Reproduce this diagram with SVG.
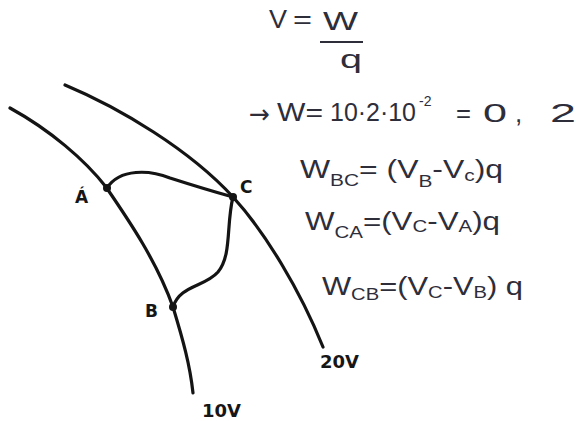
<svg xmlns="http://www.w3.org/2000/svg" width="576" height="421" viewBox="0 0 576 421">
<style>
.curve{fill:none;stroke:#141414;stroke-width:3.2;stroke-linecap:round}
.path{fill:none;stroke:#141414;stroke-width:3.2;stroke-linecap:round}
.dot{fill:#141414}
.lbl{font-family:"DejaVu Sans","Liberation Sans",sans-serif;font-weight:bold;font-size:17px;fill:#161616}
.vl{font-size:18px}
.hw{font-family:"Liberation Sans",Arial,sans-serif;font-size:26px;fill:#2e2e3a}
.sub{font-size:17px}
.arr{font-family:"DejaVu Sans",sans-serif;font-size:26px}
.sup{font-size:14px}
</style>
<rect width="576" height="421" fill="#ffffff"/>
<g id="equipotentials">
<path id="line-10V" class="curve" d="M10,108 C50,130 85,160 106,187 C130,222 157,262 173,307 C183,340 190,365 193,393"/>
<path id="line-20V" class="curve" d="M65,85 C120,108 190,150 233,197 C265,232 300,290 323,347"/>
</g>
<g id="connectors">
<path id="path-AC" class="path" d="M107,188 C120,168 150,170 170,178 C195,186 215,192 233,197"/>
<path id="path-CB" class="path" d="M233,197 C226,225 232,255 218,272 C205,287 180,285 173,307"/>
</g>
<g id="node-A"><circle class="dot" cx="107" cy="188" r="4"/><text class="lbl" x="75" y="203">Á</text></g>
<g id="node-C"><circle class="dot" cx="233" cy="197" r="4"/><text class="lbl" x="240" y="193">C</text></g>
<g id="node-B"><circle class="dot" cx="173" cy="307" r="4"/><text class="lbl" x="145" y="317">B</text></g>
<text class="lbl vl" x="320" y="368">20V</text>
<text class="lbl vl" x="202" y="417">10V</text>
<g id="equations">
<text class="hw" x="269" y="28" textLength="18" lengthAdjust="spacingAndGlyphs">V</text>
<text class="hw" x="293" y="28" textLength="19" lengthAdjust="spacingAndGlyphs">=</text>
<text class="hw" x="323" y="30" textLength="35" lengthAdjust="spacingAndGlyphs">W</text>
<line x1="320" y1="42" x2="363" y2="42" stroke="#2e2e3a" stroke-width="2"/>
<text class="hw" x="340" y="68" textLength="22" lengthAdjust="spacingAndGlyphs">q</text>
<text class="hw arr" x="249" y="123" textLength="21" lengthAdjust="spacingAndGlyphs">→</text>
<text class="hw" x="277" y="121" textLength="46" lengthAdjust="spacingAndGlyphs">W=</text>
<text class="hw" x="330" y="121" textLength="86" lengthAdjust="spacingAndGlyphs">10·2·10</text>
<text class="hw sup" x="419" y="106">-2</text>
<text class="hw" x="456" y="122" textLength="15" lengthAdjust="spacingAndGlyphs">=</text>
<text class="hw" x="483" y="122" textLength="24" lengthAdjust="spacingAndGlyphs">0</text>
<text class="hw" x="515" y="122">,</text>
<text class="hw" x="550" y="122" textLength="26" lengthAdjust="spacingAndGlyphs">2</text>
<text class="hw" x="300" y="178" textLength="203" lengthAdjust="spacingAndGlyphs">W<tspan class="sub" dy="8">BC</tspan><tspan dy="-8">= (V</tspan><tspan class="sub" dy="9">B</tspan><tspan dy="-9">-V</tspan><tspan class="sub" dy="3">c</tspan><tspan dy="-3">)q</tspan></text>
<text class="hw" x="305" y="230" textLength="195" lengthAdjust="spacingAndGlyphs">W<tspan class="sub" dy="8">CA</tspan><tspan dy="-8">=(V</tspan><tspan class="sub" dy="2">C</tspan><tspan dy="-2">-V</tspan><tspan class="sub" dy="2">A</tspan><tspan dy="-2">)q</tspan></text>
<text class="hw" x="322" y="295" textLength="201" lengthAdjust="spacingAndGlyphs">W<tspan class="sub" dy="5">CB</tspan><tspan dy="-5">=(V</tspan><tspan class="sub" dy="3">C</tspan><tspan dy="-3">-V</tspan><tspan class="sub" dy="3">B</tspan><tspan dy="-3">) q</tspan></text>
</g>
</svg>
